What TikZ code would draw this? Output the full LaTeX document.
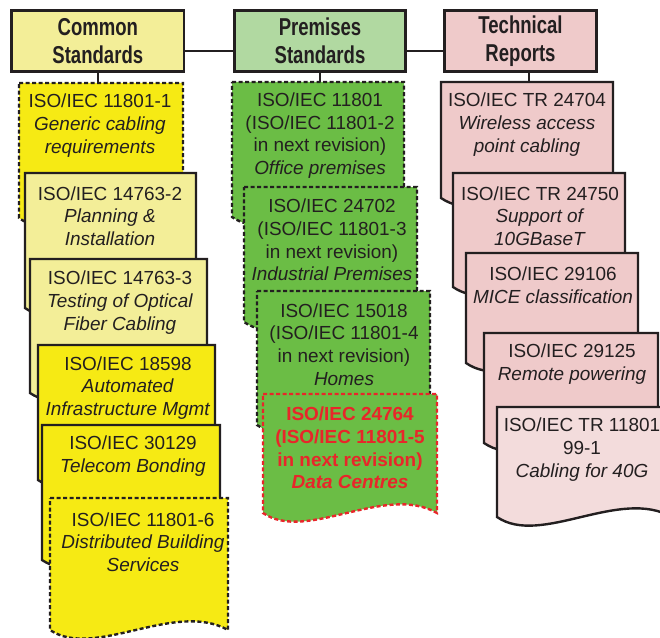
\documentclass[tikz,border=0pt]{standalone}
\usepackage{fontspec}
\setmainfont{Liberation Sans}
\newfontfamily\headfont[FakeStretch=0.76]{Liberation Sans}
\definecolor{ink}{HTML}{231F20}
\definecolor{yelbright}{HTML}{F6EA14}
\definecolor{yellight}{HTML}{F3EE98}
\definecolor{grnbox}{HTML}{6BBD45}
\definecolor{grnhead}{HTML}{B1D9A1}
\definecolor{pinkbox}{HTML}{EFCACA}
\definecolor{pinklight}{HTML}{F3DCDC}
\definecolor{redtxt}{HTML}{E8262A}
\newcommand\mydoc[5]{%
  \path[#1] (#2,#4) -- (#3,#4) -- (#3,#5)
    .. controls ({#3-0.3*(#3-#2)},{#5-30}) and ({#2+0.25*(#3-#2)},{#5+30}) .. (#2,#5) -- cycle;}
\tikzset{
  head/.style={draw=ink, line width=2.6bp, inner sep=0pt, align=center,
    font=\headfont\bfseries\fontsize{24.5}{28}\selectfont, text=ink},
  solidbox/.style={draw=ink, line width=2.4bp, line join=miter},
  dashbox/.style={draw=ink, line width=2.4bp, dash pattern=on 4bp off 2.5bp},
  reddash/.style={draw=redtxt, line width=2.4bp, dash pattern=on 4bp off 2.5bp},
  txt/.style={inner sep=0pt, align=center, text=ink,
    font=\fontsize{19}{22.8}\selectfont},
  conn/.style={draw=ink, line width=2.2bp}
}
\begin{document}
\begin{tikzpicture}[x=1bp,y=-1bp]
\useasboundingbox (0,0) rectangle (660,638);
\clip (0,0) rectangle (660,638);
\fill[white] (0,0) rectangle (660,638);

% headers
\node[head, fill=yellight, minimum width=172bp, minimum height=61bp] (hc) at (97.8,41.2) {Common\\Standards};
\node[head, fill=grnhead, minimum width=171bp, minimum height=61bp] (hp) at (320,41.2) {Premises\\Standards};
\node[head, fill=pinkbox, minimum width=152bp, minimum height=61bp] (ht) at (520.5,41.2) {Technical\\Reports};
\coordinate (jy) at (0,50.8);
\coordinate (l1top) at (98,83);
\coordinate (m1top) at (320,82);
\coordinate (r1top) at (529,82);
\draw[conn] (hc.east |- jy) -- (hp.west |- jy);
\draw[conn] (hp.east |- jy) -- (ht.west |- jy);
\draw[conn] (hc.south -| l1top) -- (l1top);
\draw[conn] (hp.south -| m1top) -- (m1top);
\draw[conn] (ht.south -| r1top) -- (r1top);

% left column
\mydoc{dashbox, fill=yelbright}{19}{183}{83}{218}
\node[txt] (l1) at (100,125.5) {ISO/IEC 11801-1\\\textit{Generic cabling}\\\textit{requirements}};
\mydoc{solidbox, fill=yellight}{25}{196}{173}{308}
\node[txt] (l2) at (110,216) {ISO/IEC 14763-2\\\textit{Planning \&}\\\textit{Installation}};
\mydoc{solidbox, fill=yellight}{30}{207}{259}{393}
\node[txt] (l3) at (120,302.5) {ISO/IEC 14763-3\\\textit{Testing of Optical}\\\textit{Fiber Cabling}};
\mydoc{solidbox, fill=yelbright}{38}{215}{345}{480}
\node[txt] (l4) at (128,388) {ISO/IEC 18598\\\textit{Automated}\\\textit{Infrastructure Mgmt}};
\mydoc{solidbox, fill=yelbright}{42}{220}{425}{560}
\node[txt] (l5) at (133,456) {ISO/IEC 30129\\\textit{Telecom Bonding}};
\mydoc{dashbox, fill=yelbright}{50}{228}{498}{630}
\node[txt] (l6) at (143,542) {ISO/IEC 11801-6\\\textit{Distributed Building}\\\textit{Services}};

% middle column
\mydoc{dashbox, fill=grnbox}{232}{404}{82}{217}
\node[txt] (m1) at (320,135.5) {ISO/IEC 11801\\(ISO/IEC 11801-2\\in next revision)\\\textit{Office premises}};
\mydoc{dashbox, fill=grnbox}{244}{417}{187}{322}
\node[txt] (m2) at (332,240) {ISO/IEC 24702\\(ISO/IEC 11801-3\\in next revision)\\\textit{Industrial Premises}};
\mydoc{dashbox, fill=grnbox}{257}{430}{291}{425}
\node[txt] (m3) at (344,344.5) {ISO/IEC 15018\\(ISO/IEC 11801-4\\in next revision)\\\textit{Homes}};
\mydoc{reddash, fill=grnbox}{263}{437}{394}{513}
\node[txt, text=redtxt, font=\bfseries\fontsize{19}{22.8}\selectfont] (m4) at (350,448) {ISO/IEC 24764\\(ISO/IEC 11801-5\\in next revision)\\\textit{Data Centres}};

% right column
\mydoc{solidbox, fill=pinkbox}{441}{613}{82}{198}
\node[txt] (r1) at (527,124.5) {ISO/IEC TR 24704\\\textit{Wireless access}\\\textit{point cabling}};
\mydoc{solidbox, fill=pinkbox}{453}{625}{173}{287}
\node[txt] (r2) at (540,216) {ISO/IEC TR 24750\\\textit{Support of}\\\textit{10GBaseT}};
\mydoc{solidbox, fill=pinkbox}{466}{638}{253}{363}
\node[txt] (r3) at (553,285) {ISO/IEC 29106\\\textit{MICE classification}};
\mydoc{solidbox, fill=pinkbox}{484}{658}{333}{443}
\node[txt] (r4) at (572,364) {ISO/IEC 29125\\\textit{Remote powering}};
\mydoc{solidbox, fill=pinklight}{497}{672}{407}{517}
\node[txt] (r5) at (582,449.5) {ISO/IEC TR 11801\\99-1\\\textit{Cabling for 40G}};
\end{tikzpicture}
\end{document}
